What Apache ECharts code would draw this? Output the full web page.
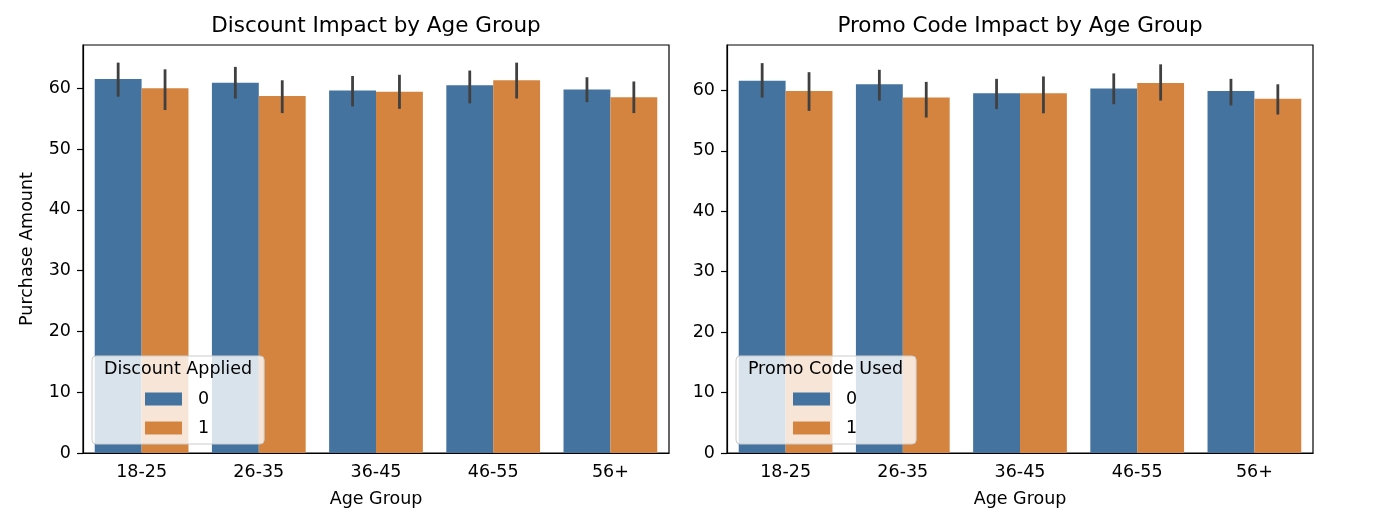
<!DOCTYPE html>
<html>
<head>
<meta charset="utf-8">
<script src="https://cdn.jsdelivr.net/npm/echarts@6/dist/echarts.min.js"></script>
<style>
html,body{margin:0;padding:0;background:#fff;}
#main{width:1380px;height:524px;}
</style>
</head>
<body>
<div id="main"></div>
<script>
const ageGroups = ['18-25', '26-35', '36-45', '46-55', '56+'];
const yTicks = [0, 10, 20, 30, 40, 50, 60];

// Discount Impact (left)
const disc0Mean = [61.5, 60.9, 59.6, 60.5, 59.8];
const disc0Low  = [58.6, 58.3, 57.0, 57.5, 57.7];
const disc0High = [64.2, 63.5, 62.0, 62.9, 61.8];
const disc1Mean = [60.0, 58.7, 59.4, 61.3, 58.5];
const disc1Low  = [56.4, 55.9, 56.6, 58.3, 55.9];
const disc1High = [63.1, 61.3, 62.2, 64.2, 61.1];

// Promo Code Impact (right)
const promo0Mean = [61.6, 61.0, 59.5, 60.3, 59.9];
const promo0Low  = [58.8, 58.3, 56.9, 57.7, 57.5];
const promo0High = [64.5, 63.4, 61.9, 62.8, 61.9];
const promo1Mean = [59.9, 58.8, 59.5, 61.2, 58.6];
const promo1Low  = [56.6, 55.5, 56.2, 58.3, 56.0];
const promo1High = [63.0, 61.4, 62.3, 64.3, 61.0];

const BLUE = '#44739f';
const ORANGE = '#d4843f';
const FONT = 'DejaVu Sans';
const FS = 17.5;

function errData(lo, hi) {
  return lo.map((v, i) => [i, v, hi[i]]);
}
function errSeries(xi, lo, hi, off) {
  return {
    type: 'custom', xAxisIndex: xi, yAxisIndex: xi, z: 5, silent: true,
    data: errData(lo, hi),
    encode: { x: 0, y: [1, 2] },
    renderItem: function (params, api) {
      const bw = api.size([1, 0])[0];
      const x = api.coord([api.value(0), 0])[0] + off * bw;
      const y1 = api.coord([api.value(0), api.value(1)])[1];
      const y2 = api.coord([api.value(0), api.value(2)])[1];
      return { type: 'line', shape: { x1: x, y1: y1, x2: x, y2: y2 },
        style: { stroke: '#404040', lineWidth: 2.8 } };
    }
  };
}
function xAxis(gi) {
  return {
    type: 'category', gridIndex: gi, data: ageGroups,
    name: 'Age Group', nameLocation: 'middle', nameGap: 37,
    nameTextStyle: { fontFamily: FONT, fontSize: FS, color: '#000' },
    axisLine: { lineStyle: { color: '#000', width: 1.2 } },
    axisTick: { alignWithLabel: true, length: 6, lineStyle: { color: '#000', width: 1.2 } },
    axisLabel: { fontFamily: FONT, fontSize: FS, color: '#000', margin: 10 },
    splitLine: { show: false }
  };
}
function yAxis(gi, max, withName) {
  return {
    type: 'value', gridIndex: gi, min: 0, max: max, interval: 10,
    name: withName ? 'Purchase Amount' : '', nameLocation: 'middle', nameGap: 47,
    nameTextStyle: { fontFamily: FONT, fontSize: FS, color: '#000' },
    axisLine: { show: true, lineStyle: { color: '#000', width: 1.2 } },
    axisTick: { show: true, length: 6, customValues: yTicks, lineStyle: { color: '#000', width: 1.2 } },
    axisLabel: { fontFamily: FONT, fontSize: FS, color: '#000', margin: 12, customValues: yTicks },
    splitLine: { show: false }
  };
}
function legend(left, top, padL, padR) {
  return {
    left: left, top: top, orient: 'vertical',
    data: ['0', '1'], selectedMode: false,
    itemWidth: 37, itemHeight: 13, itemGap: 11,
    icon: 'rect',
    padding: [34, padR, 7, padL],
    backgroundColor: 'rgba(255,255,255,0.8)',
    borderColor: '#cccccc', borderWidth: 1, borderRadius: 4,
    textStyle: { fontFamily: FONT, fontSize: FS, color: '#000', padding: [0, 0, 0, 11] }
  };
}

const chart = echarts.init(document.getElementById('main'), null, { renderer: 'canvas' });
chart.setOption({
  animation: false,
  backgroundColor: '#fff',
  grid: [
    { left: 83, top: 45, width: 586, height: 408, show: true, borderColor: '#000', borderWidth: 1.2, backgroundColor: 'transparent' },
    { left: 727, top: 45, width: 586, height: 408, show: true, borderColor: '#000', borderWidth: 1.2, backgroundColor: 'transparent' }
  ],
  xAxis: [xAxis(0), xAxis(1)],
  yAxis: [yAxis(0, 67.1, true), yAxis(1, 67.5, false)],
  legend: [legend(92, 356, 53, 55), legend(736, 356, 57, 59)],
  graphic: [
    { type: 'text', x: 376, y: 26, z: 100, style: { text: 'Discount Impact by Age Group', fontFamily: FONT, fontSize: 21.5, fill: '#000', textAlign: 'center', textVerticalAlign: 'middle' } },
    { type: 'text', x: 1020, y: 26, z: 100, style: { text: 'Promo Code Impact by Age Group', fontFamily: FONT, fontSize: 21.5, fill: '#000', textAlign: 'center', textVerticalAlign: 'middle' } },
    { type: 'text', x: 178, y: 369, z: 100, style: { text: 'Discount Applied', fontFamily: FONT, fontSize: FS, fill: '#000', textAlign: 'center', textVerticalAlign: 'middle' } },
    { type: 'text', x: 825.5, y: 369, z: 100, style: { text: 'Promo Code Used', fontFamily: FONT, fontSize: FS, fill: '#000', textAlign: 'center', textVerticalAlign: 'middle' } }
  ],
  series: [
    { name: '0', type: 'bar', xAxisIndex: 0, yAxisIndex: 0, data: disc0Mean, barWidth: '40%', barGap: '0%', itemStyle: { color: BLUE } },
    { name: '1', type: 'bar', xAxisIndex: 0, yAxisIndex: 0, data: disc1Mean, barWidth: '40%', barGap: '0%', itemStyle: { color: ORANGE } },
    { name: '0', type: 'bar', xAxisIndex: 1, yAxisIndex: 1, data: promo0Mean, barWidth: '40%', barGap: '0%', itemStyle: { color: BLUE } },
    { name: '1', type: 'bar', xAxisIndex: 1, yAxisIndex: 1, data: promo1Mean, barWidth: '40%', barGap: '0%', itemStyle: { color: ORANGE } },
    errSeries(0, disc0Low, disc0High, -0.2),
    errSeries(0, disc1Low, disc1High, 0.2),
    errSeries(1, promo0Low, promo0High, -0.2),
    errSeries(1, promo1Low, promo1High, 0.2)
  ]
});
</script>
</body>
</html>
